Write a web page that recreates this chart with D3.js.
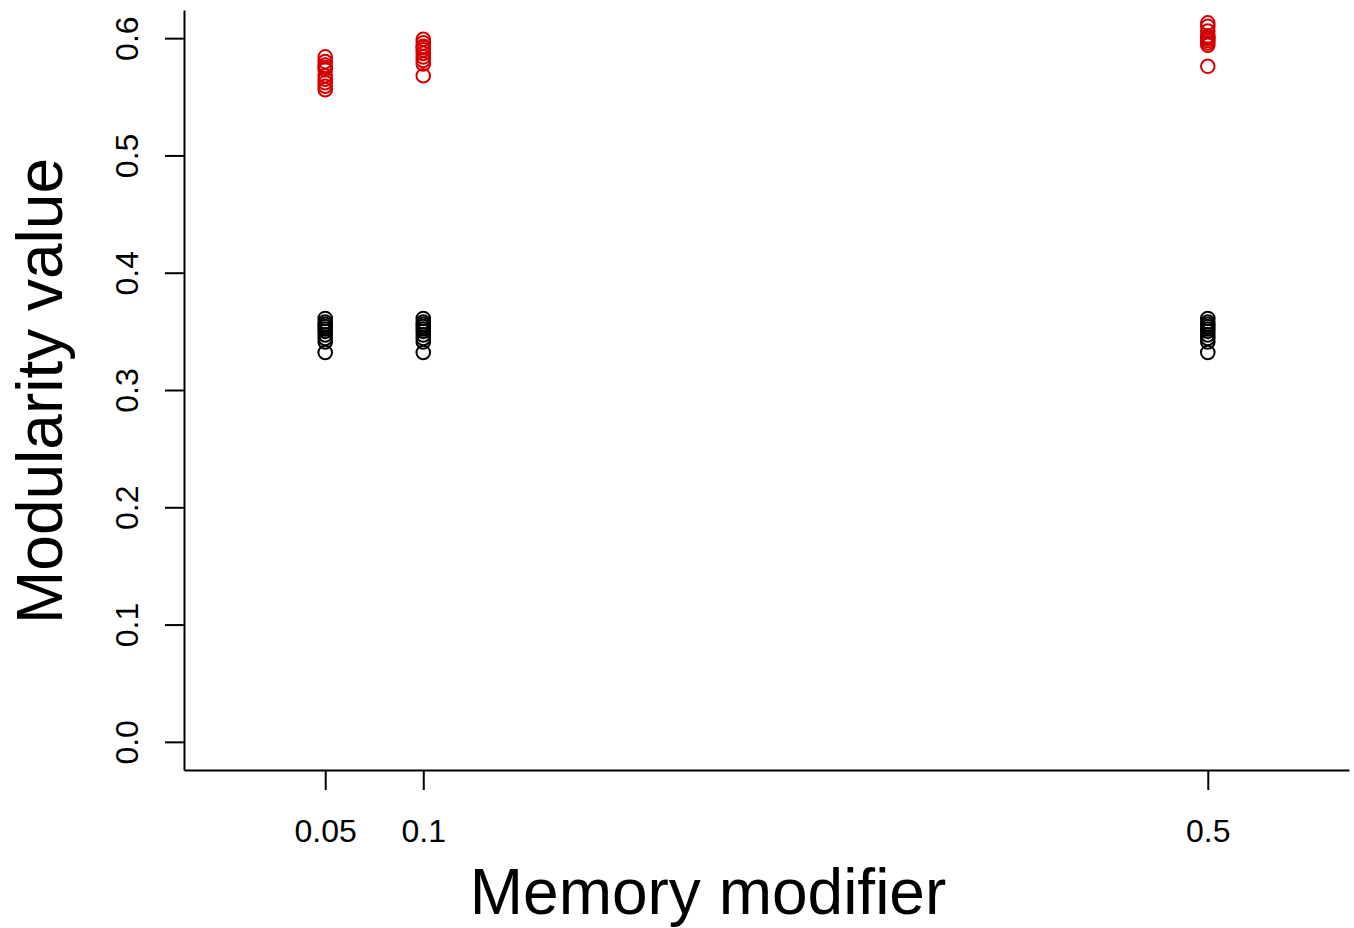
<!DOCTYPE html>
<html><head><meta charset="utf-8">
<script src="https://cdn.jsdelivr.net/npm/d3@7"></script>
<style>body{margin:0;background:#fff}svg{display:block}text{font-family:"Liberation Sans",Arial,sans-serif}</style>
</head><body>
<svg id="c" width="1354" height="928"></svg>
<script>
const xTicks = [0.05, 0.1, 0.5];
const xTickLabels = ["0.05", "0.1", "0.5"];
const yTicks = [0.0, 0.1, 0.2, 0.3, 0.4, 0.5, 0.6];
const yTickLabels = ["0.0", "0.1", "0.2", "0.3", "0.4", "0.5", "0.6"];
const redAt005 = [0.584, 0.580, 0.577, 0.575, 0.573, 0.568, 0.565, 0.562, 0.559, 0.556];
const redAt01 = [0.599, 0.596, 0.593, 0.592, 0.590, 0.587, 0.584, 0.581, 0.578, 0.568];
const redAt05 = [0.613, 0.610, 0.606, 0.602, 0.601, 0.600, 0.598, 0.596, 0.594, 0.576];
const blackAt005 = [0.361, 0.358, 0.356, 0.354, 0.352, 0.350, 0.347, 0.344, 0.341, 0.332];
const blackAt01 = [0.361, 0.358, 0.356, 0.354, 0.352, 0.350, 0.347, 0.344, 0.341, 0.332];
const blackAt05 = [0.361, 0.358, 0.356, 0.354, 0.352, 0.350, 0.347, 0.344, 0.341, 0.332];

const series = [
  {x: 0.05, vals: redAt005, color: "#d40000"},
  {x: 0.1, vals: redAt01, color: "#d40000"},
  {x: 0.5, vals: redAt05, color: "#d40000"},
  {x: 0.05, vals: blackAt005, color: "#000"},
  {x: 0.1, vals: blackAt01, color: "#000"},
  {x: 0.5, vals: blackAt05, color: "#000"}
];

const svg = d3.select("#c");
const x = d3.scaleLinear().domain([-0.022, 0.572]).range([184, 1349]);
const y = d3.scaleLinear().domain([-0.024, 0.624]).range([770, 10]);

// axes
const xAxis = d3.axisBottom(x).tickValues(xTicks).tickFormat((d,i)=>xTickLabels[i]).tickSize(20).tickPadding(29).tickSizeOuter(0);
const gx = svg.append("g").attr("transform","translate(0,770)").call(xAxis);
gx.select(".domain").attr("stroke","#000").attr("stroke-width",2);
gx.selectAll(".tick line").attr("stroke","#000").attr("stroke-width",2);
gx.selectAll(".tick text").attr("font-size",32).attr("fill","#000");

const yAxis = d3.axisLeft(y).tickValues(yTicks).tickFormat((d,i)=>yTickLabels[i]).tickSize(19).tickSizeOuter(0);
const gy = svg.append("g").attr("transform","translate(184,0)").call(yAxis);
gy.select(".domain").attr("stroke","#000").attr("stroke-width",2);
gy.selectAll(".tick line").attr("stroke","#000").attr("stroke-width",2);
gy.selectAll(".tick text").attr("font-size",32).attr("fill","#000")
  .attr("x",0).attr("dy",null).attr("dominant-baseline","central")
  .attr("text-anchor","middle").attr("transform","translate(-57,0) rotate(-90)");

// points
series.forEach(s=>{
  svg.append("g").selectAll("circle").data(s.vals).join("circle")
    .attr("cx", x(s.x)).attr("cy", d=>y(d)).attr("r", 6.8)
    .attr("fill","none").attr("stroke", s.color).attr("stroke-width",2);
});

// titles
svg.append("text").attr("x",708).attr("y",914).attr("text-anchor","middle")
  .attr("font-size",64).text("Memory modifier");
svg.append("text").attr("transform","translate(62,391) rotate(-90)").attr("text-anchor","middle")
  .attr("font-size",64).text("Modularity value");
</script>
</body></html>
